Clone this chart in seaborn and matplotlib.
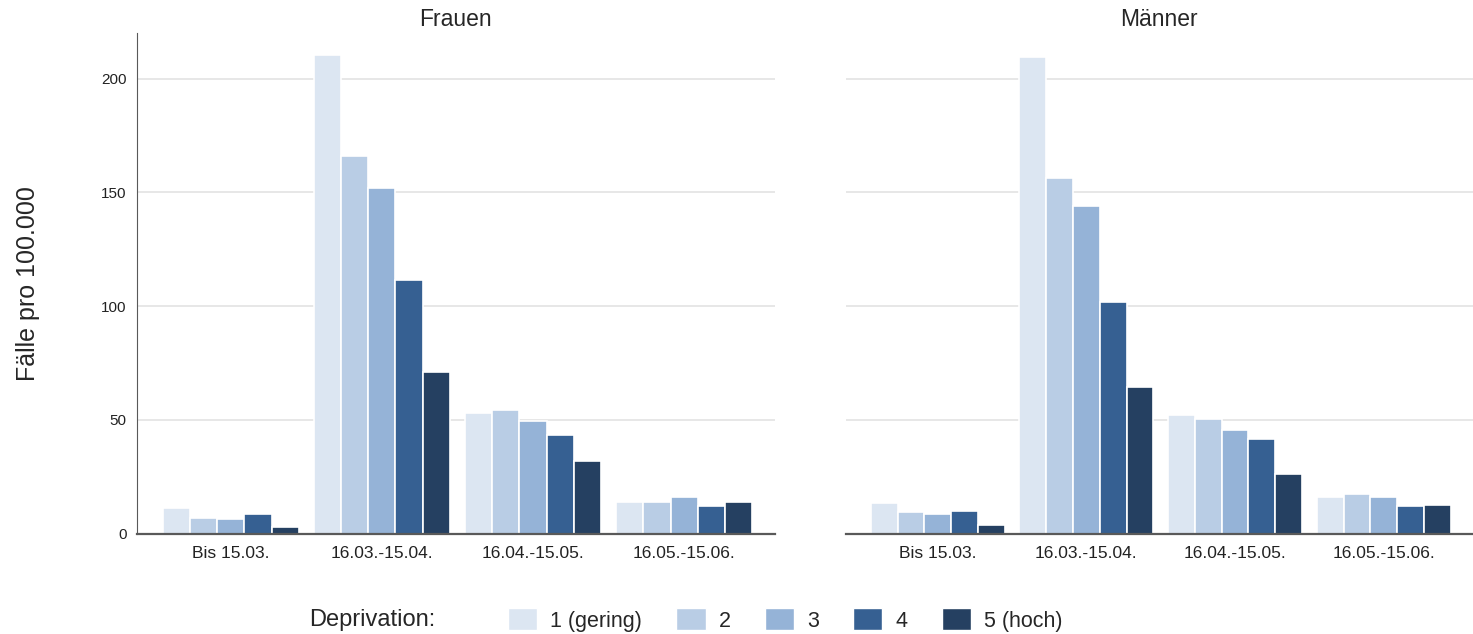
import pandas as pd
import matplotlib.pyplot as plt
import seaborn as sns
from matplotlib.patches import Patch

# --- Daten ---
zeitraeume = ["Bis 15.03.", "16.03.-15.04.", "16.04.-15.05.", "16.05.-15.06."]
deprivation = ["1 (gering)", "2", "3", "4", "5 (hoch)"]

# Werte je Zeitraum, Reihenfolge wie deprivation
frauen = [
    [11.3, 6.9, 6.4, 8.6, 2.8],
    [210.5, 165.8, 151.8, 111.4, 71.2],
    [53.2, 54.4, 49.7, 43.3, 32.0],
    [14.0, 14.0, 16.1, 12.3, 14.0],
]
maenner = [
    [13.5, 9.5, 8.6, 10.2, 3.8],
    [209.3, 156.1, 144.2, 101.9, 64.3],
    [52.1, 50.4, 45.5, 41.8, 26.4],
    [16.1, 17.4, 16.0, 12.1, 12.6],
]

farben = ["#dce6f2", "#b9cde5", "#95b3d7", "#366092", "#254061"]


def long_form(werte, geschlecht):
    rows = []
    for z, zeile in zip(zeitraeume, werte):
        for d, v in zip(deprivation, zeile):
            rows.append({"zeitraum": z, "deprivation": d, "faelle": v, "geschlecht": geschlecht})
    return rows


df = pd.DataFrame(long_form(frauen, "Frauen") + long_form(maenner, "Männer"))

sns.set_style("white")
plt.rcParams["font.family"] = ["Liberation Sans", "DejaVu Sans"]

fig = plt.figure(figsize=(14.73, 6.34), dpi=100)
ax1 = fig.add_axes([0.093, 0.158, 0.433, 0.79])
ax2 = fig.add_axes([0.574, 0.158, 0.426, 0.79], sharey=ax1)

for ax, g in [(ax1, "Frauen"), (ax2, "Männer")]:
    sub = df[df["geschlecht"] == g]
    sns.barplot(data=sub, x="zeitraum", y="faelle", hue="deprivation",
                order=zeitraeume, hue_order=deprivation, palette=farben,
                width=0.9, saturation=1, edgecolor="white", linewidth=1.2,
                ax=ax, legend=False, zorder=3)
    ax.set_title(g, fontsize=16.5, pad=5)
    ax.set_xlabel("")
    ax.set_ylabel("")
    ax.set_xlim(-0.62, 3.6)
    ax.set_ylim(0, 220)
    ax.set_yticks([0, 50, 100, 150, 200])
    ax.yaxis.grid(True, color="#e3e3e3", linewidth=1.2, zorder=0)
    ax.set_axisbelow(True)
    for s in ["top", "right"]:
        ax.spines[s].set_visible(False)
    ax.spines["bottom"].set_color("#595959")
    ax.spines["bottom"].set_linewidth(1.6)
    ax.spines["bottom"].set_zorder(6)
    ax.tick_params(axis="x", length=0, labelsize=12.5, pad=9, colors="#222222")
    ax.tick_params(axis="y", labelsize=11, colors="#222222")

ax1.spines["left"].set_color("#595959")
ax1.tick_params(axis="y", length=4, width=1, color="#595959")
ax2.spines["left"].set_visible(False)
ax2.tick_params(axis="y", left=False, labelleft=False)

fig.text(0.019, 0.553, "Fälle pro 100.000", rotation=90, fontsize=18,
         ha="center", va="center")

handles = [Patch(facecolor=c, edgecolor="white") for c in farben]
fig.text(0.21, 0.022, "Deprivation:", fontsize=17, ha="left", va="center")
fig.legend(handles, deprivation, loc="center", bbox_to_anchor=(0.533, 0.022),
           ncol=5, frameon=False, fontsize=15.5, handlelength=1.35,
           handleheight=1.2, handletextpad=0.6, columnspacing=1.6)

plt.savefig("out.png", dpi=100)
